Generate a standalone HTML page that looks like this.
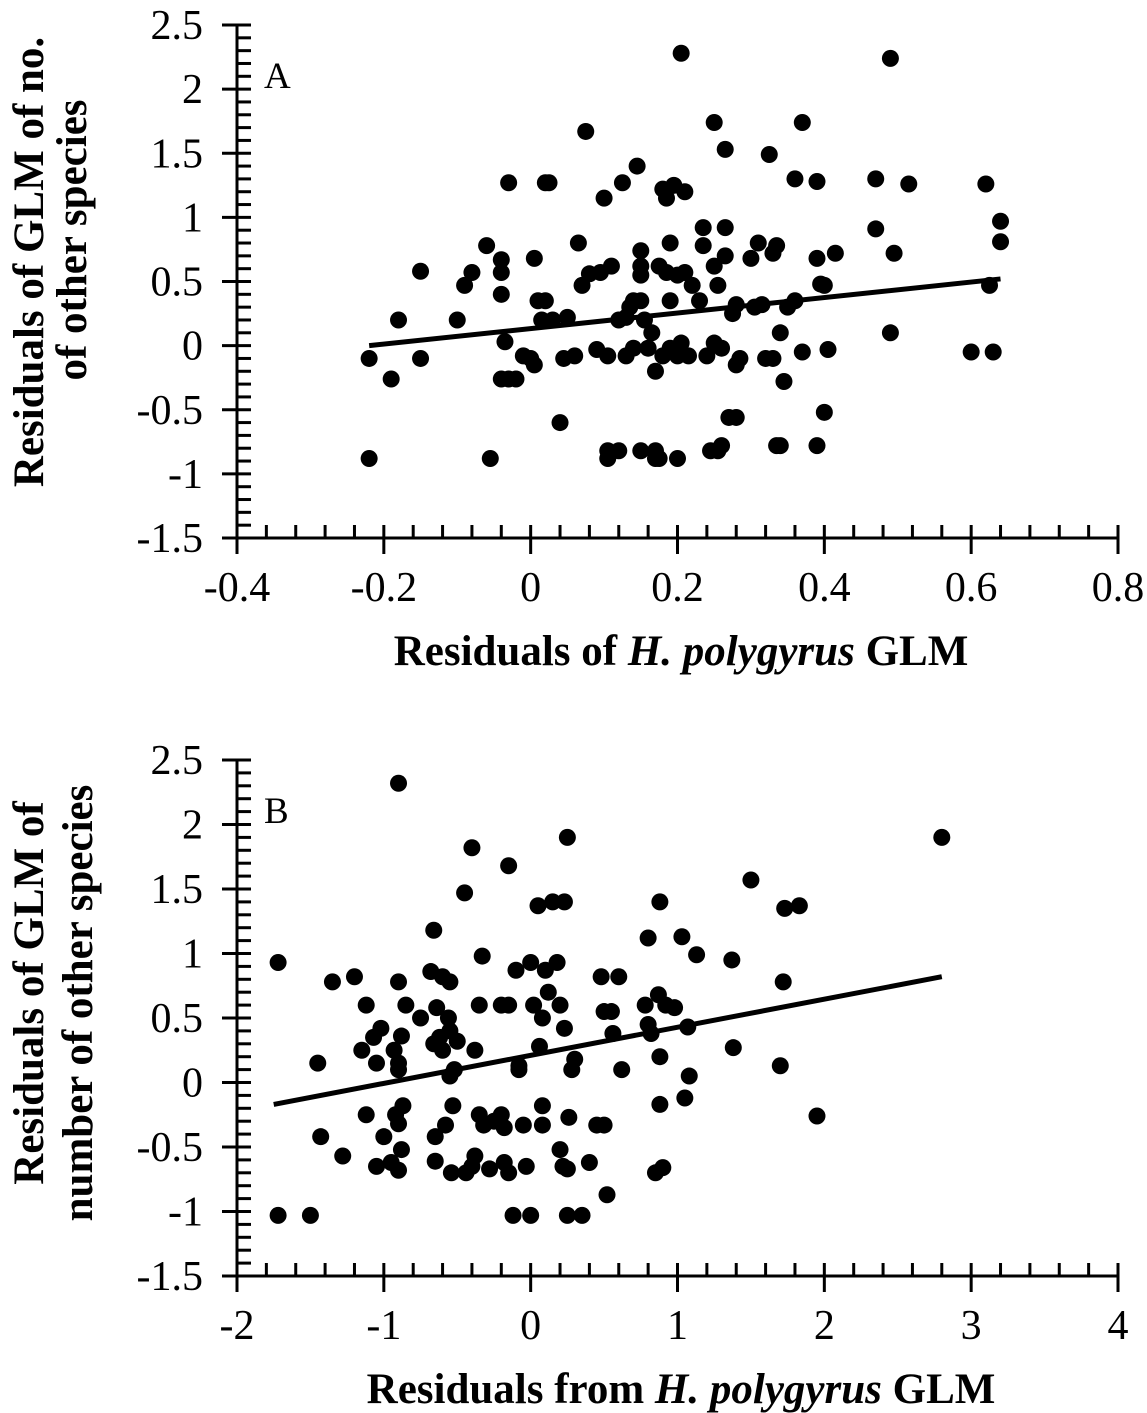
<!DOCTYPE html>
<html><head><meta charset="utf-8"><style>
body{margin:0;background:#fff}
svg{display:block;font-family:"Liberation Serif",serif}
</style></head><body>
<svg id="s" width="1147" height="1413" viewBox="0 0 1147 1413"></svg>
<script>
const ticksAy=[2.5,2,1.5,1,0.5,0,-0.5,-1,-1.5];
const ticksAx=[-0.4,-0.2,0,0.2,0.4,0.6,0.8];
const ticksBx=[-2,-1,0,1,2,3,4];
const ptsAx=[-0.22,-0.22,-0.19,-0.18,-0.15,-0.15,-0.1,-0.09,-0.08,-0.06,-0.055,-0.04,-0.04,-0.04,-0.035,-0.04,-0.03,-0.02,-0.03,-0.01,0.0,0.005,0.005,0.01,0.015,0.02,0.02,0.025,0.03,0.04,0.045,0.05,0.06,0.065,0.07,0.075,0.08,0.09,0.095,0.1,0.105,0.105,0.105,0.11,0.12,0.12,0.125,0.13,0.13,0.135,0.14,0.14,0.145,0.15,0.15,0.15,0.15,0.15,0.155,0.16,0.165,0.17,0.17,0.17,0.175,0.175,0.18,0.18,0.185,0.185,0.19,0.19,0.19,0.195,0.2,0.2,0.2,0.205,0.205,0.21,0.21,0.215,0.22,0.23,0.235,0.235,0.24,0.245,0.25,0.25,0.25,0.255,0.255,0.26,0.26,0.265,0.265,0.265,0.27,0.275,0.28,0.28,0.28,0.285,0.3,0.305,0.31,0.315,0.32,0.325,0.33,0.33,0.335,0.335,0.34,0.34,0.345,0.35,0.36,0.36,0.37,0.37,0.39,0.39,0.395,0.39,0.4,0.4,0.405,0.415,0.47,0.47,0.49,0.49,0.495,0.515,0.6,0.62,0.625,0.63,0.64,0.64];
const ptsAy=[-0.1,-0.88,-0.26,0.2,-0.1,0.58,0.2,0.47,0.57,0.78,-0.88,0.67,0.57,0.4,0.03,-0.26,-0.26,-0.26,1.27,-0.08,-0.1,-0.15,0.68,0.35,0.2,0.35,1.27,1.27,0.2,-0.6,-0.1,0.22,-0.08,0.8,0.47,1.67,0.56,-0.03,0.57,1.15,-0.08,-0.88,-0.82,0.62,0.2,-0.82,1.27,0.22,-0.08,0.3,0.35,-0.02,1.4,0.74,0.62,0.55,0.35,-0.82,0.2,-0.02,0.1,-0.2,-0.82,-0.88,-0.88,0.62,1.22,-0.08,1.15,0.57,0.35,0.8,-0.02,1.25,-0.88,0.55,-0.08,0.02,2.28,1.2,0.57,-0.08,0.47,0.35,0.92,0.78,-0.08,-0.82,0.02,0.62,1.74,0.47,-0.82,-0.78,-0.02,0.7,0.92,1.53,-0.56,0.25,-0.56,0.32,-0.15,-0.1,0.68,0.3,0.8,0.32,-0.1,1.49,0.72,-0.1,-0.78,0.78,0.1,-0.78,-0.28,0.3,0.35,1.3,1.74,-0.05,1.28,-0.78,0.48,0.68,0.47,-0.52,-0.03,0.72,0.91,1.3,0.1,2.24,0.72,1.26,-0.05,1.26,0.47,-0.05,0.97,0.81];
const lineAx=[-0.22,0.64], lineAy=[0.0,0.52];
const ptsBx=[-1.72,-1.72,-1.5,-1.45,-1.43,-1.35,-1.28,-1.2,-1.15,-1.12,-1.12,-1.07,-1.05,-1.05,-1.02,-1.0,-0.95,-0.93,-0.92,-0.9,-0.9,-0.9,-0.9,-0.9,-0.9,-0.88,-0.88,-0.87,-0.85,-0.75,-0.68,-0.66,-0.66,-0.65,-0.65,-0.64,-0.62,-0.6,-0.6,-0.58,-0.56,-0.55,-0.55,-0.55,-0.54,-0.53,-0.52,-0.5,-0.45,-0.44,-0.4,-0.4,-0.38,-0.38,-0.35,-0.35,-0.33,-0.32,-0.28,-0.25,-0.2,-0.2,-0.18,-0.18,-0.15,-0.15,-0.15,-0.12,-0.1,-0.08,-0.08,-0.05,-0.03,0.0,0.0,0.02,0.05,0.06,0.08,0.08,0.08,0.1,0.12,0.15,0.18,0.2,0.2,0.22,0.23,0.23,0.25,0.25,0.25,0.26,0.28,0.3,0.35,0.4,0.45,0.48,0.5,0.5,0.52,0.55,0.56,0.6,0.62,0.78,0.8,0.8,0.82,0.85,0.87,0.88,0.88,0.88,0.9,0.92,0.98,1.03,1.05,1.07,1.08,1.13,1.37,1.38,1.5,1.7,1.72,1.73,1.83,1.95,2.8];
const ptsBy=[0.93,-1.03,-1.03,0.15,-0.42,0.78,-0.57,0.82,0.25,0.6,-0.25,0.35,0.15,-0.65,0.42,-0.42,-0.62,0.25,-0.25,2.32,0.78,0.15,0.1,-0.68,-0.32,0.36,-0.52,-0.18,0.6,0.5,0.86,1.18,0.3,-0.42,-0.61,0.58,0.35,0.25,0.82,-0.33,0.5,0.78,0.4,0.05,-0.7,-0.18,0.1,0.32,1.47,-0.7,-0.65,1.82,0.25,-0.57,0.6,-0.25,0.98,-0.33,-0.67,-0.3,0.6,-0.25,-0.62,-0.35,0.6,1.68,-0.7,-1.03,0.87,0.1,0.13,-0.33,-0.65,-1.03,0.93,0.6,1.37,0.28,0.5,-0.18,-0.33,0.87,0.7,1.4,0.93,0.6,-0.52,-0.65,1.4,0.42,-1.03,1.9,-0.67,-0.27,0.1,0.18,-1.03,-0.62,-0.33,0.82,0.55,-0.33,-0.87,0.55,0.38,0.82,0.1,0.6,0.45,1.12,0.38,-0.7,0.68,0.2,-0.17,1.4,-0.66,0.6,0.58,1.13,-0.12,0.43,0.05,0.99,0.95,0.27,1.57,0.13,0.78,1.35,1.37,-0.26,1.9];
const lineBx=[-1.75,2.8], lineBy=[-0.17,0.82];

const NS='http://www.w3.org/2000/svg', svg=document.getElementById('s');
function mk(t,a,p){const e=document.createElementNS(NS,t);for(const k in a)e.setAttribute(k,a[k]);(p||svg).appendChild(e);return e;}
function panel(cfg){
  const g=mk('g',{});
  
  
  const X=v=>237+(v-cfg.xmin)/(cfg.xmax-cfg.xmin)*881;
  const Y=v=>cfg.y0-(v-(-1.5))/4*(cfg.y0-cfg.y1);
  const bot=cfg.y0;
  const yax=mk('line',{x1:237,y1:Y(2.5),x2:237,y2:bot,stroke:'#000','stroke-width':3},g);
  
  const xax=mk('line',{x1:222,y1:bot,x2:1118,y2:bot,stroke:'#000','stroke-width':3},g);
  
  ticksAy.forEach((v,i)=>{
    mk('line',{x1:222,y1:Y(v),x2:251,y2:Y(v),stroke:'#000','stroke-width':3},g);
    if(i<ticksAy.length-1)for(let k=1;k<5;k++){const yy=Y(v-0.1*k);mk('line',{x1:237,y1:yy,x2:251,y2:yy,stroke:'#000','stroke-width':3},g);}
    const t=mk('text',{x:203,y:Y(v)+14,'text-anchor':'end','font-size':42},g);t.textContent=String(v);
    
  });
  const tx=cfg.ticksX, step=tx[1]-tx[0];
  tx.forEach((v,i)=>{
    mk('line',{x1:X(v),y1:bot-13,x2:X(v),y2:bot+16,stroke:'#000','stroke-width':3},g);
    if(i<tx.length-1)for(let k=1;k<5;k++){const xx=X(v+step*k/5);mk('line',{x1:xx,y1:bot-13,x2:xx,y2:bot,stroke:'#000','stroke-width':3},g);}
    const t=mk('text',{x:X(v),y:bot+63,'text-anchor':'middle','font-size':42},g);t.textContent=String(v);
    
  });
  cfg.px.forEach((v,i)=>{const c=mk('circle',{cx:X(v),cy:Y(cfg.py[i]),r:8.5,fill:'#000'},g);
    });
  const l=mk('line',{x1:X(cfg.lx[0]),y1:Y(cfg.ly[0]),x2:X(cfg.lx[1]),y2:Y(cfg.ly[1]),stroke:'#000','stroke-width':5},g);
  
  const lt=mk('text',{x:264,y:Y(2.5)+63,'font-size':37},g);lt.textContent=cfg.letter;
  
  const xt=mk('text',{x:681,y:bot+127,'text-anchor':'middle','font-size':43,'font-weight':'bold'},g);
  xt.innerHTML=cfg.xtitle;
  
  [[43,cfg.c1,cfg.yt1],[cfg.x2,cfg.c2,cfg.yt2]].forEach(([x,cy,s])=>{
    const t=mk('text',{x:x,y:cy,'text-anchor':'middle','font-size':43,'font-weight':'bold',transform:`rotate(-90 ${x} ${cy})`},g);
    t.textContent=s;
  });
}
panel({name:'panel-a',xmin:-0.4,xmax:0.8,y0:538,y1:25,ticksX:ticksAx,px:ptsAx,py:ptsAy,lx:lineAx,ly:lineAy,letter:'A',
  xtitle:'Residuals of <tspan font-style="italic">H. polygyrus</tspan> GLM',yt1:'Residuals of GLM of no.',yt2:'of other species',c1:262,c2:240,x2:86});
panel({name:'panel-b',xmin:-2,xmax:4,y0:1276,y1:760,ticksX:ticksBx,px:ptsBx,py:ptsBy,lx:lineBx,ly:lineBy,letter:'B',
  xtitle:'Residuals from <tspan font-style="italic">H. polygyrus</tspan> GLM',yt1:'Residuals of GLM of',yt2:'number of other species',c1:993,c2:1003,x2:92});
</script>
</body></html>
